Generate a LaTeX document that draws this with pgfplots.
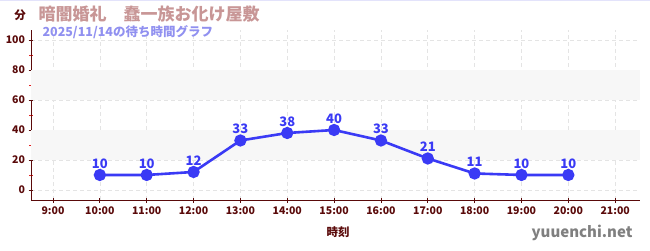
\documentclass[border=0pt]{standalone}
\usepackage{pgfplots}
\pgfplotsset{compat=1.18}
\usepackage{fontspec}
\setmainfont{Noto Sans CJK JP}
\definecolor{axred}{HTML}{5A0A0A}
\definecolor{minred}{HTML}{E02020}
\definecolor{ttl}{HTML}{C89696}
\definecolor{sub}{HTML}{9090F0}
\definecolor{ln}{HTML}{3A3AF5}
\definecolor{band}{HTML}{F7F7F7}
\definecolor{grd}{HTML}{E4E4E4}
\begin{document}
\begin{tikzpicture}
\useasboundingbox (0pt,0pt) rectangle (650pt,250pt);
\draw[color=sub!25,line width=1pt] (0pt,249.5pt) -- (650pt,249.5pt);
\begin{axis}[
  at={(31pt,50pt)}, anchor=south west,
  scale only axis, width=609pt, height=170pt,
  xmin=8.53, xmax=21.53, ymin=-6.7, ymax=106.7,
  axis x line*=bottom, axis y line*=left,
  axis line style={color=axred, line width=0.9pt, -},
  xtick={9,...,21},
  xticklabels={9:00,10:00,11:00,12:00,13:00,14:00,15:00,16:00,17:00,18:00,19:00,20:00,21:00},
  ytick={0,20,...,100},
  minor ytick={10,30,50,70,90},
  tick align=center,
  major tick length=5pt, minor tick length=4pt,
  every major tick/.style={color=axred, line width=0.8pt},
  every minor tick/.style={color=minred, line width=0.8pt},
  grid=major,
  major grid style={color=grd, dash pattern=on 4pt off 3pt, line width=0.6pt},
  tick label style={font=\fontsize{10.5}{12}\selectfont\bfseries, text=axred},
  /pgf/number format/assume math mode=true,
  xticklabel style={yshift=-1pt},
  clip=false,
]
\fill[band] (axis cs:8.53,20) rectangle (axis cs:21.53,40);
\fill[band] (axis cs:8.53,60) rectangle (axis cs:21.53,80);
\addplot[color=ln, line width=2.6pt, mark=*, mark size=4.8pt,
  nodes near coords, every node near coord/.style={font=\fontsize{13}{15}\selectfont\bfseries, text=ln, yshift=2pt}]
 coordinates {(10,10) (11,10) (12,12) (13,33) (14,38) (15,40) (16,33) (17,21) (18,11) (19,10) (20,10)};
\end{axis}
\node[anchor=west, text=ttl, font=\fontsize{17}{19}\selectfont\bfseries] at (35pt,236pt) {暗闇婚礼　蠢一族お化け屋敷};
\node[anchor=west, text=sub, font=\fontsize{12.5}{14}\selectfont\bfseries] at (39pt,218pt) {2025/11/14の待ち時間グラフ};
\node[text=axred, font=\fontsize{11.5}{13}\selectfont\bfseries] at (20pt,235pt) {分};
\node[text=axred, font=\fontsize{11.5}{13}\selectfont\bfseries] at (338pt,18pt) {時刻};
\node[anchor=east, text=black!50, font=\fontsize{15}{17}\selectfont\bfseries] at (636pt,17pt) {yuuenchi.net};
\end{tikzpicture}
\end{document}
